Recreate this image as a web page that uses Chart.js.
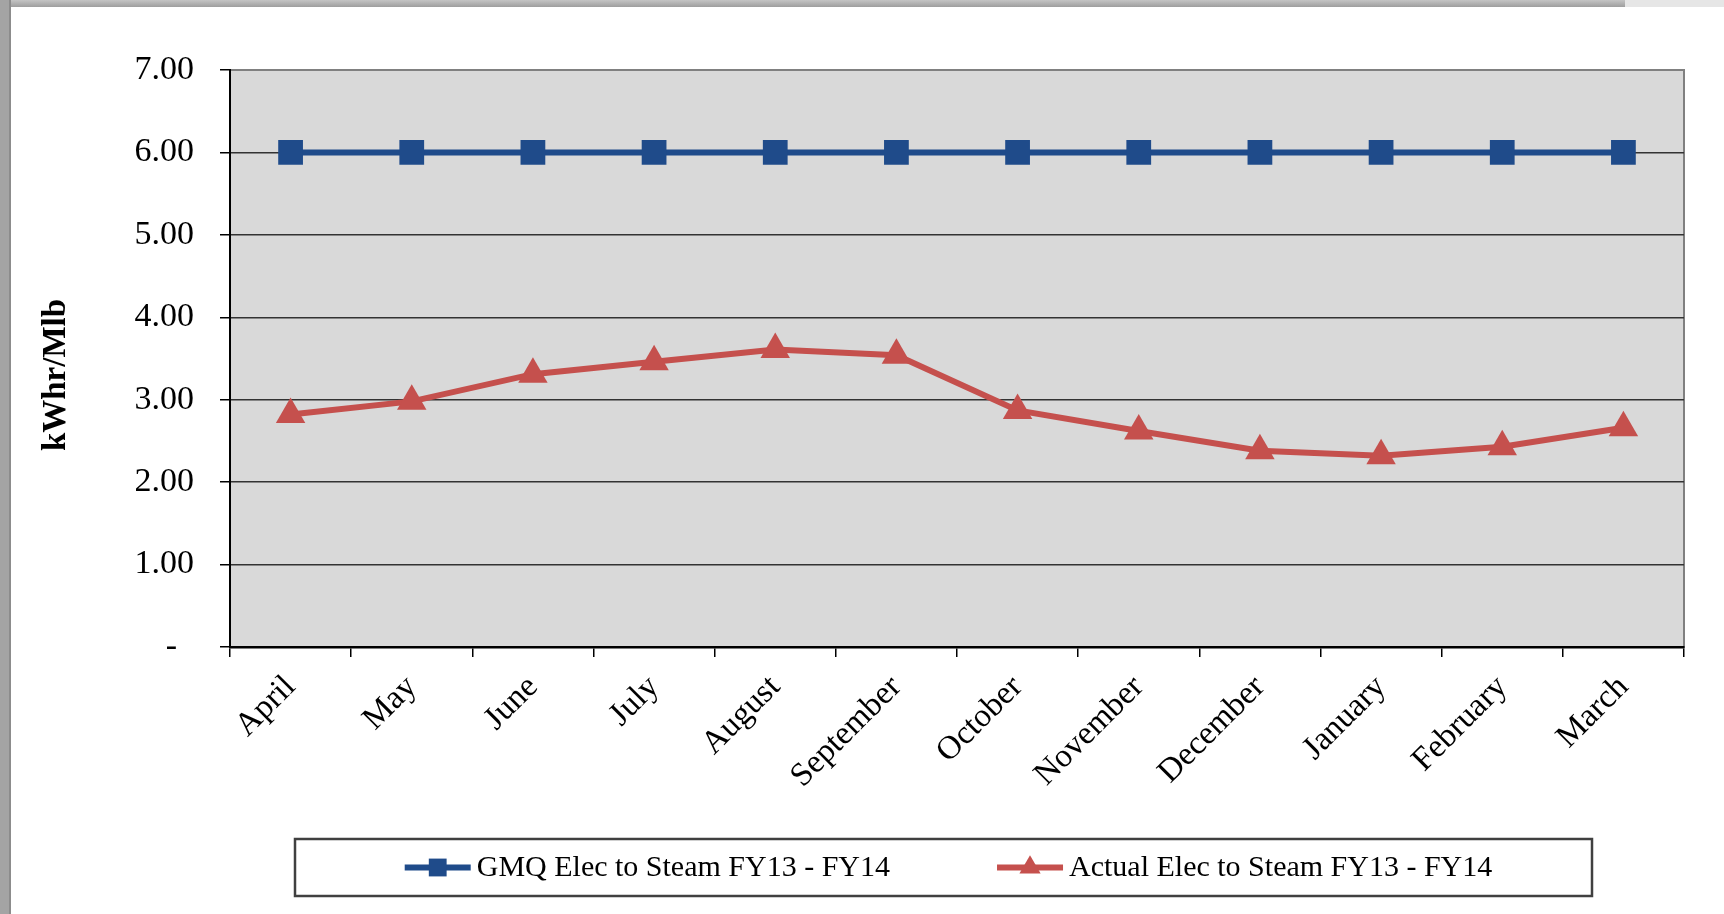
<!DOCTYPE html>
<html>
<head>
<meta charset="utf-8">
<script src="https://cdn.jsdelivr.net/npm/chart.js@4.4.0/dist/chart.umd.min.js"></script>
<style>
  html, body { margin: 0; padding: 0; background: #fff; width: 1724px; height: 914px; overflow: hidden; }
  #topbar { position: absolute; left: 0; top: 0; width: 1625px; height: 7px; background: linear-gradient(#c4c4c4, #9e9e9e); }
  #topbar2 { position: absolute; left: 1625px; top: 0; width: 99px; height: 7px; background: #e6e6e6; }
  #leftbar { position: absolute; left: 0; top: 0; width: 9px; height: 914px; background: #a4a4a4; border-right: 2px solid #8c8c8c; }
  #wrap { position: absolute; left: 0; top: 0; width: 1724px; height: 914px; }
</style>
</head>
<body>
<div id="topbar"></div><div id="topbar2"></div><div id="leftbar"></div>
<div id="wrap"><canvas id="chart" width="1724" height="914"></canvas></div>
<script>
const months = ['April', 'May', 'June', 'July', 'August', 'September', 'October',
  'November', 'December', 'January', 'February', 'March'];
const gmqValues = [6.00, 6.00, 6.00, 6.00, 6.00, 6.00, 6.00, 6.00, 6.00, 6.00, 6.00, 6.00];
const actualValues = [2.82, 2.98, 3.31, 3.46, 3.61, 3.54, 2.87, 2.62, 2.38, 2.32, 2.43, 2.66];
const seriesNames = ['GMQ Elec to Steam FY13 - FY14', 'Actual Elec to Steam FY13 - FY14'];
const yTitle = 'kWhr/Mlb';

const serif = "'Liberation Serif', 'Times New Roman', serif";
Chart.defaults.font.family = serif;
Chart.defaults.color = '#000';

// grey plot area with its frame
const plotBg = {
  id: 'plotBg',
  beforeDraw(chart) {
    const { ctx, chartArea: a } = chart;
    ctx.save();
    ctx.fillStyle = '#d9d9d9';
    ctx.fillRect(a.left, a.top, a.width, a.height);
    ctx.strokeStyle = '#808080';
    ctx.lineWidth = 2;
    ctx.strokeRect(a.left, a.top, a.width, a.height);
    ctx.restore();
  }
};

// boxed legend under the axis, line + marker samples
const boxLegend = {
  id: 'boxLegend',
  afterDraw(chart) {
    const { ctx } = chart;
    const bx = 295, by = 839, bw = 1297, bh = 57;
    ctx.save();
    ctx.strokeStyle = '#404040';
    ctx.lineWidth = 2.5;
    ctx.strokeRect(bx, by, bw, bh);
    ctx.font = '30px ' + serif;
    ctx.textBaseline = 'middle';
    const sample = 66, gapText = 6, gapItem = 107;
    const items = chart.data.datasets.map(ds => ({ ds, w: sample + gapText + ctx.measureText(ds.label).width }));
    const total = items.reduce((s, it) => s + it.w, 0) + gapItem * (items.length - 1);
    let x = bx + bw / 2 + 5 - total / 2;
    const cy = by + bh / 2;
    items.forEach(({ ds, w }) => {
      ctx.strokeStyle = ds.borderColor;
      ctx.lineWidth = ds.borderWidth;
      ctx.beginPath();
      ctx.moveTo(x, cy);
      ctx.lineTo(x + sample, cy);
      ctx.stroke();
      ctx.fillStyle = ds.borderColor;
      Chart.helpers.drawPoint(ctx, { pointStyle: ds.pointStyle, radius: ds.pointRadius * 0.72, borderWidth: 0, rotation: 0 }, x + sample / 2, cy);
      ctx.fillStyle = '#000';
      ctx.fillText(ds.label, x + sample + gapText, cy + 1);
      x += w + gapItem;
    });
    ctx.restore();
  }
};

new Chart(document.getElementById('chart'), {
  type: 'line',
  data: {
    labels: months,
    datasets: [
      {
        label: seriesNames[0],
        data: gmqValues,
        borderColor: '#1f4b8a',
        backgroundColor: '#1f4b8a',
        borderWidth: 6,
        pointStyle: 'rect',
        pointRadius: 17.5,
        pointHoverRadius: 17.5,
        pointBorderWidth: 0
      },
      {
        label: seriesNames[1],
        data: actualValues,
        borderColor: '#c5504d',
        backgroundColor: '#c5504d',
        borderWidth: 6,
        pointStyle: 'triangle',
        pointRadius: 17,
        pointHoverRadius: 17,
        pointBorderWidth: 0
      }
    ]
  },
  options: {
    responsive: false,
    animation: false,
    devicePixelRatio: 1,
    layout: { padding: { top: 70, right: 40, bottom: 0, left: 0 } },
    plugins: {
      legend: { display: false },
      tooltip: { enabled: false }
    },
    scales: {
      x: {
        offset: true,
        afterFit: (scale) => { scale.height = 267; },
        grid: { offset: true, drawOnChartArea: false, tickLength: 10, color: '#000', lineWidth: 1.5 },
        border: { color: '#000', width: 2.5 },
        ticks: { autoSkip: false, minRotation: 45, maxRotation: 45, padding: 11, font: { size: 33 } }
      },
      y: {
        min: 0,
        max: 7,
        afterFit: (scale) => { scale.width = 230; },
        grid: {
          color: (c) => c.tick && c.tick.value === 7 ? '#808080' : '#333',
          tickColor: '#000',
          lineWidth: 1.5,
          tickLength: 10
        },
        border: { color: '#000', width: 2 },
        ticks: {
          stepSize: 1,
          padding: 26,
          font: { size: 34 },
          callback: (v) => v === 0 ? '-  ' : v.toFixed(2)
        },
        title: {
          display: true,
          text: yTitle + '    ',
          font: { size: 33, weight: 'bold' },
          padding: { top: 37, bottom: 0 }
        }
      }
    }
  },
  plugins: [plotBg, boxLegend]
});
</script>
</body>
</html>
